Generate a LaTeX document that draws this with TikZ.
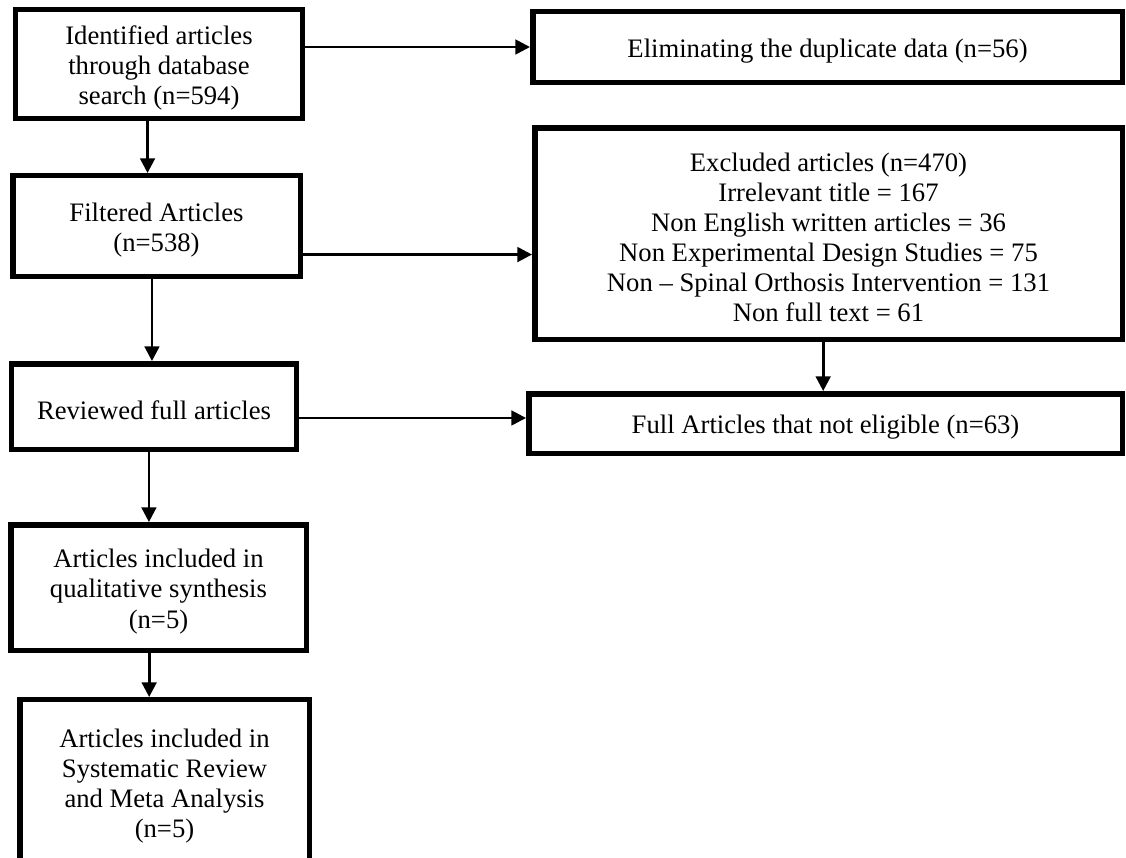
\documentclass[tikz,border=0pt]{standalone}
\usepackage{fontspec}
\setmainfont{Liberation Serif}
\usetikzlibrary{arrows.meta}
\begin{document}
\begin{tikzpicture}[x=0.75pt,y=-0.75pt,
  box/.style={draw=black,line width=4.1pt,fill=white,inner sep=0pt},
  txt/.style={align=center,inner sep=0pt,yshift=-3pt,
    font=\fontsize{20}{22.6}\selectfont},
  arr/.style={line width=2pt,-{Triangle[length=11pt,width=11pt]}}]
\useasboundingbox (0,0) rectangle (1126,857);
\clip (0,0) rectangle (1126,857);
% boxes
\node[box,minimum width=214.9pt,minimum height=81.4pt] (B1) at (159,64) {};
\node[box,minimum width=442.1pt,minimum height=52.9pt] (B2) at (827.5,47) {};
\node[box,minimum width=215.6pt,minimum height=75.4pt] (B3) at (156.5,226) {};
\node[box,minimum width=440.6pt,minimum height=158.6pt] (B4) at (828.5,233.5) {};
\node[box,minimum width=213.4pt,minimum height=64.1pt] (B5) at (154,406.5) {};
\node[box,minimum width=445.1pt,minimum height=44.6pt] (B6) at (825.5,423.5) {};
\node[box,minimum width=221.6pt,minimum height=94.1pt] (B7) at (158.5,587.5) {};
\node[box,minimum width=217.1pt,minimum height=123.4pt] (B8) at (164.5,782) {};
% texts
\node[txt] (T1) at (B1.center) {Identified articles\\through database\\search (n=594)};
\node[txt] (T2) at (B2.center) {Eliminating the duplicate data (n=56)};
\node[txt] (T3) at (B3.center) {Filtered Articles\\(n=538)};
\node[txt] (T4) at (B4.center) {Excluded articles (n=470)\\Irrelevant title = 167\\Non English written articles = 36\\Non Experimental Design Studies = 75\\Non -- Spinal Orthosis Intervention = 131\\Non full text = 61};
\node[txt] (T5) at (B5.center) {Reviewed full articles};
\node[txt] (T6) at (B6.center) {Full Articles that not eligible (n=63)};
\node[txt] (T7) at (B7.center) {Articles included in\\qualitative synthesis\\(n=5)};
\node[txt] (T8) at (B8.center) {Articles included in\\Systematic Review\\and Meta Analysis\\(n=5)};
% connectors
\draw[arr] (B2.west -| B1.east) -- (B2.west);
\draw[arr] ([xshift=-8.6pt]B1.south) -- ([xshift=-8.6pt]B1.south |- B3.north);
\draw[arr] ([yshift=-21.4pt]B3.east) -- ([yshift=-21.4pt]B3.east -| B4.west);
\draw[arr] ([xshift=-3.4pt]B3.south) -- ([xshift=-3.4pt]B3.south |- B5.north);
\draw[arr] ([xshift=-4pt]B4.south) -- ([xshift=-4pt]B4.south |- B6.north);
\draw[arr] ([yshift=-8.6pt]B5.east) -- ([yshift=-8.6pt]B5.east -| B6.west);
\draw[arr] ([xshift=-3.8pt]B5.south) -- ([xshift=-3.8pt]B5.south |- B7.north);
\draw[arr] ([xshift=-7pt]B7.south) -- ([xshift=-7pt]B7.south |- B8.north);
\end{tikzpicture}
\end{document}
